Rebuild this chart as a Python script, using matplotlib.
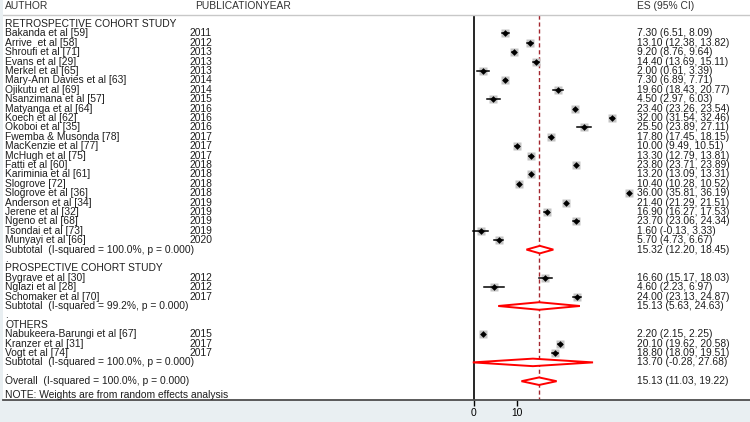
import matplotlib.pyplot as plt
from matplotlib.patches import Polygon

plt.rcParams['font.family'] = ['Liberation Sans', 'DejaVu Sans']

# --- data ---
group_names = ['RETROSPECTIVE COHORT STUDY', 'PROSPECTIVE COHORT STUDY', 'OTHERS']

retro_authors = ['Bakanda et al [59]', 'Arrive  et al [58]', 'Shroufi et al [71]', 'Evans et al [29]',
                 'Merkel et al [65]', 'Mary-Ann Davies et al [63]', 'Ojikutu et al [69]',
                 'Nsanzimana et al [57]', 'Matyanga et al [64]', 'Koech et al [62]', 'Okoboi et al [35]',
                 'Fwemba & Musonda [78]', 'MacKenzie et al [77]', 'McHugh et al [75]', 'Fatti et al [60]',
                 'Kariminia et al [61]', 'Slogrove [72]', 'Slogrove et al [36]', 'Anderson et al [34]',
                 'Jerene et al [32]', 'Ngeno et al [68]', 'Tsondai et al [73]', 'Munyayi et al [66]']
retro_years = [2011, 2012, 2013, 2013, 2013, 2014, 2014, 2015, 2016, 2016, 2016, 2017,
               2017, 2017, 2018, 2018, 2018, 2018, 2019, 2019, 2019, 2019, 2020]
retro_es = [7.30, 13.10, 9.20, 14.40, 2.00, 7.30, 19.60, 4.50, 23.40, 32.00, 25.50, 17.80,
            10.00, 13.30, 23.80, 13.20, 10.40, 36.00, 21.40, 16.90, 23.70, 1.60, 5.70]
retro_lo = [6.51, 12.38, 8.76, 13.69, 0.61, 6.89, 18.43, 2.97, 23.26, 31.54, 23.89, 17.45,
            9.49, 12.79, 23.71, 13.09, 10.28, 35.81, 21.29, 16.27, 23.06, -0.13, 4.73]
retro_hi = [8.09, 13.82, 9.64, 15.11, 3.39, 7.71, 20.77, 6.03, 23.54, 32.46, 27.11, 18.15,
            10.51, 13.81, 23.89, 13.31, 10.52, 36.19, 21.51, 17.53, 24.34, 3.33, 6.67]

pro_authors = ['Bygrave et al [30]', 'Nglazi et al [28]', 'Schomaker et al [70]']
pro_years = [2012, 2012, 2017]
pro_es = [16.60, 4.60, 24.00]
pro_lo = [15.17, 2.23, 23.13]
pro_hi = [18.03, 6.97, 24.87]

oth_authors = ['Nabukeera-Barungi et al [67]', 'Kranzer et al [31]', 'Vogt et al [74]']
oth_years = [2015, 2017, 2017]
oth_es = [2.20, 20.10, 18.80]
oth_lo = [2.15, 19.62, 18.09]
oth_hi = [2.25, 20.58, 19.51]

sub_i2 = ['100.0%', '99.2%', '100.0%']
sub_es = [15.32, 15.13, 13.70]
sub_lo = [12.20, 5.63, -0.28]
sub_hi = [18.45, 24.63, 27.68]

overall_es, overall_lo, overall_hi = 15.13, 11.03, 19.22

groups = [
    (retro_authors, retro_years, retro_es, retro_lo, retro_hi),
    (pro_authors, pro_years, pro_es, pro_lo, pro_hi),
    (oth_authors, oth_years, oth_es, oth_lo, oth_hi),
]

# --- figure layout (pixel based) ---
W, H = 750, 422
fig = plt.figure(figsize=(W / 100, H / 100), dpi=100, facecolor='#e9eff2')
ax = fig.add_axes([3 / W, 22 / H, (W - 3) / W, 400 / H])
ax.set_facecolor('white')

row_px, row0_px = 9.4, 24
ax.set_ylim((400 - row0_px) / row_px, -row0_px / row_px)
px_per_unit, zero_px = 4.3, 474
ax.set_xlim((3 - zero_px) / px_per_unit, (W - zero_px) / px_per_unit)

fs = 7.4
tc = '#1e1e1e'
tr = ax.get_yaxis_transform()


def frac(px):
    return (px - 3) / (W - 3)


x_auth, x_year, x_es = frac(5), frac(190), frac(637)


def fmt(e, l, h):
    return f'{e:.2f} ({l:.2f}, {h:.2f})'


def label(x, y, s, color=tc):
    ax.text(x, y, s, transform=tr, fontsize=fs, color=color, va='center')


def diamond(y, e, l, h):
    ax.add_patch(Polygon([(l, y), (e, y - 0.4), (h, y), (e, y + 0.4)], closed=True,
                         facecolor='white', edgecolor='red', lw=1.4, zorder=4))
    label(x_es, y, fmt(e, l, h))


# header
hy = (6 - row0_px) / row_px
label(x_auth, hy, 'AUTHOR', '#333333')
label(frac(195), hy, 'PUBLICATIONYEAR', '#333333')
label(x_es, hy, 'ES (95% CI)', '#333333')
line_y = (15 - row0_px) / row_px
ax.axhline(line_y, color='#c8c8c8', lw=1)

r = 0
for gname, (auth, yrs, es, lo, hi), i2, se, sl, sh in zip(group_names, groups, sub_i2,
                                                          sub_es, sub_lo, sub_hi):
    label(x_auth, r, gname)
    r += 1
    for a, yr, e, l, h in zip(auth, yrs, es, lo, hi):
        label(x_auth, r, a)
        label(x_year, r, str(yr))
        label(x_es, r, fmt(e, l, h))
        ax.plot(e, r, 's', ms=5.2, color='#c4c4c4', mec='none', zorder=2)
        ax.plot([l, h], [r, r], color='black', lw=1.1, zorder=3)
        ax.plot(e, r, 'D', ms=3.4, color='black', mec='none', zorder=3)
        r += 1
    label(x_auth, r, f'Subtotal  (I-squared = {i2}, p = 0.000)')
    diamond(r, se, sl, sh)
    r += 1
    label(x_auth, r, '.')
    r += 1

label(x_auth, r, 'Overall  (I-squared = 100.0%, p = 0.000)')
diamond(r, overall_es, overall_lo, overall_hi)
label(x_auth, r + 1.45, 'NOTE: Weights are from random effects analysis')

bottom = ax.get_ylim()[0]
ax.vlines(0, line_y, bottom, color='black', lw=1.2, zorder=1)
ax.vlines(overall_es, line_y, bottom, color='#a3262e', lw=1, linestyles=(0, (3, 2)), zorder=1)

for s in ['top', 'left', 'right']:
    ax.spines[s].set_visible(False)
ax.spines['bottom'].set_color('#4d4d4d')
ax.spines['bottom'].set_linewidth(1.3)
ax.set_yticks([])
ax.set_xticks([0, 10])
ax.set_xticklabels(['0', '10'])
ax.tick_params(axis='x', length=4, width=1, labelsize=fs, pad=1.5, colors='black')

fig.savefig('out.png', dpi=100, facecolor=fig.get_facecolor())
